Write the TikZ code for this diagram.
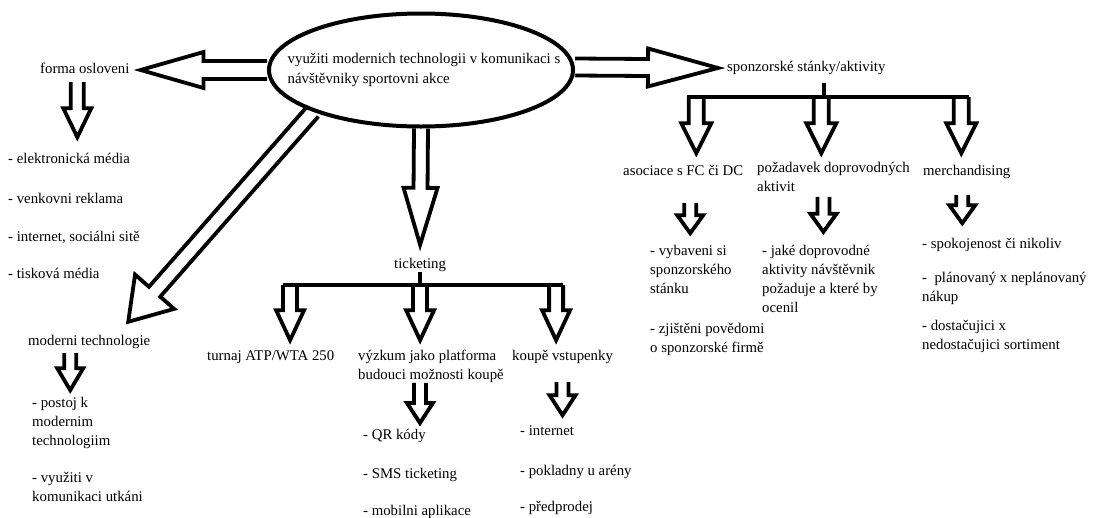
\documentclass[tikz,border=0pt]{standalone}
\usepackage{fontspec}
\setmainfont{Liberation Serif}
\usetikzlibrary{calc,shapes.geometric}

\tikzset{
	fat/.style={line width=3.8pt,line join=miter,miter limit=12},
	bar/.style={line width=3.8pt},
	lbl/.style={inner sep=0pt,anchor=west,text height=10.5pt,text depth=3.5pt},
	blk/.style={inner sep=0pt,anchor=north west,align=left}
}
\newcommand{\fatarrow}[5]{%
	\coordinate (fa-s) at #1;
	\coordinate (fa-t) at #2;
	\coordinate (fa-b) at ($(fa-t)!#5pt!(fa-s)$);
	\draw[fat] ($(fa-s)!#3pt!90:(fa-t)$) -- ($(fa-b)!#3pt!90:(fa-t)$) -- ($(fa-b)!#4pt!90:(fa-t)$) -- (fa-t)
	           -- ($(fa-b)!#4pt!-90:(fa-t)$) -- ($(fa-b)!#3pt!-90:(fa-t)$) -- ($(fa-s)!#3pt!-90:(fa-t)$);
}

\begin{document}
\begin{tikzpicture}[x=1pt,y=-1pt,font=\fontsize{14.8pt}{19pt}\selectfont]
		\fill[white] (0,0) rectangle (1094,517);
		\useasboundingbox (0,0) rectangle (1094,517);

		\node[draw,ellipse,line width=4pt,minimum width=304pt,minimum height=113pt,inner sep=0pt] (main) at (421,70) {};
		\node[inner sep=0pt,align=left,font=\fontsize{14.8pt}{20pt}\selectfont] (maintxt) at (424,70)
			{využiti modernich technologii v komunikaci s\\návštěvniky sportovni akce};

		\node[lbl]        (forma)    at (40,70)      {forma osloveni};
		\node[lbl]        (el1)      at (8,160)      {- elektronická média};
		\node[lbl]        (el2)      at (8,200)      {- venkovni reklama};
		\node[lbl]        (el3)      at (8,238)      {- internet, sociálni sitě};
		\node[lbl]        (el4)      at (8,275)      {- tisková média};

		\node[lbl]        (moderni)  at (28,342)     {moderni technologie};
		\node[blk]        (mod1)     at (32,397)     {- postoj k\\modernim\\technologiim};
		\node[blk]        (mod2)     at (32,472)     {- využiti v\\komunikaci utkáni};

		\node[lbl]        (ticket)   at (394,265)    {ticketing};
		\node[lbl]        (turnaj)   at (207,357)    {turnaj ATP/WTA 250};
		\node[blk]        (vyzkum)   at (358,350)    {výzkum jako platforma\\budouci možnosti koupě};
		\node[lbl]        (koupe)    at (512,357)    {koupě vstupenky};
		\node[lbl]        (qr)       at (363,436)    {- QR kódy};
		\node[lbl]        (sms)      at (363,475)    {- SMS ticketing};
		\node[lbl]        (mobil)    at (363,512)    {- mobilni aplikace};
		\node[lbl]        (inet)     at (520,432)    {- internet};
		\node[lbl]        (pokl)     at (520,472)    {- pokladny u arény};
		\node[lbl]        (predp)    at (520,508)    {- předprodej};

		\node[lbl]        (sponsor)  at (727,68)     {sponzorské stánky/aktivity};
		\node[lbl]        (asoc)     at (623,172)    {asociace s FC či DC};
		\node[blk]        (pozad)    at (757,162)    {požadavek doprovodných\\aktivit};
		\node[lbl]        (merch)    at (923,172)    {merchandising};
		\node[blk]        (vybav)    at (650,245)    {- vybaveni si\\sponzorského\\stánku};
		\node[blk]        (zjist)    at (650,323)    {- zjištěni povědomi\\o sponzorské firmě};
		\node[blk]        (jake)     at (762,245)    {- jaké doprovodné\\aktivity návštěvnik\\požaduje a které by\\ocenil};
		\node[lbl]        (spok)     at (922,245)    {- spokojenost či nikoliv};
		\node[blk]        (plan)     at (922,272)    {-\ \ plánovaný x neplánovaný\\nákup};
		\node[blk]        (dost)     at (922,320)    {- dostačujici x\\nedostačujici sortiment};

		\fatarrow{(main.west)}{([xshift=11pt]forma.east)}{9}{18}{63}
		\fatarrow{([yshift=3pt]main.east)}{([xshift=-9pt]sponsor.west)}{8.5}{19}{70}
		\fatarrow{(main.south)}{([yshift=13pt]ticket.north)}{7}{17}{57}
		\fatarrow{(main.201)}{([shift={(39pt,13pt)}]moderni.north)}{7.5}{26}{40}

		\fatarrow{([xshift=-7.5pt,yshift=-5pt]forma.south)}{([xshift=-7.5pt,yshift=-60pt]forma.south)}{6.5}{14}{29}
		\fatarrow{([xshift=-19pt,yshift=-4pt]moderni.south)}{([xshift=-19pt,yshift=-41pt]moderni.south)}{6}{13}{22}

		\coordinate (tbar) at ([yshift=-13pt]ticket.south);
		\draw[bar] (ticket.south) -- (tbar);
		\draw[bar] ($(tbar)+(-137,0)$) -- ($(tbar)+(143,0)$);
		\fatarrow{($(tbar)+(-130,0)$)}{($(tbar)+(-130,55)$)}{7}{14}{30}
		\fatarrow{(tbar)}{($(tbar)+(0,55)$)}{7}{14}{30}
		\fatarrow{($(tbar)+(136,0)$)}{($(tbar)+(136,55)$)}{7}{14}{30}

		\coordinate (sbar) at ([xshift=18pt,yshift=-22pt]sponsor.south);
		\draw[bar] ([xshift=18pt,yshift=-8pt]sponsor.south) -- (sbar);
		\draw[bar] ($(sbar)+(-137,0)$) -- ($(sbar)+(145,0)$);
		\fatarrow{($(sbar)+(-128,0)$)}{($(sbar)+(-128,56)$)}{7.5}{15}{30}
		\fatarrow{($(sbar)+(-3,0)$)}{($(sbar)+(-3,56)$)}{7.5}{15}{30}
		\fatarrow{($(sbar)+(137,0)$)}{($(sbar)+(137,56)$)}{7.5}{15}{30}

		\fatarrow{([xshift=7pt,yshift=-24pt]asoc.south)}{([xshift=7pt,yshift=-54pt]asoc.south)}{6}{13}{18}
		\fatarrow{([xshift=-10pt,yshift=-5pt]pozad.south)}{([xshift=-10pt,yshift=-40pt]pozad.south)}{6}{13}{18}
		\fatarrow{([xshift=-4.5pt,yshift=-16pt]merch.south)}{([xshift=-4.5pt,yshift=-44pt]merch.south)}{6}{13}{18}
		\fatarrow{([xshift=-11pt,yshift=0pt]vyzkum.south)}{([xshift=-11pt,yshift=-40pt]vyzkum.south)}{6}{13}{20}
		\fatarrow{([yshift=-18pt]koupe.south)}{([yshift=-51pt]koupe.south)}{6}{13}{20}
\end{tikzpicture}
\end{document}
